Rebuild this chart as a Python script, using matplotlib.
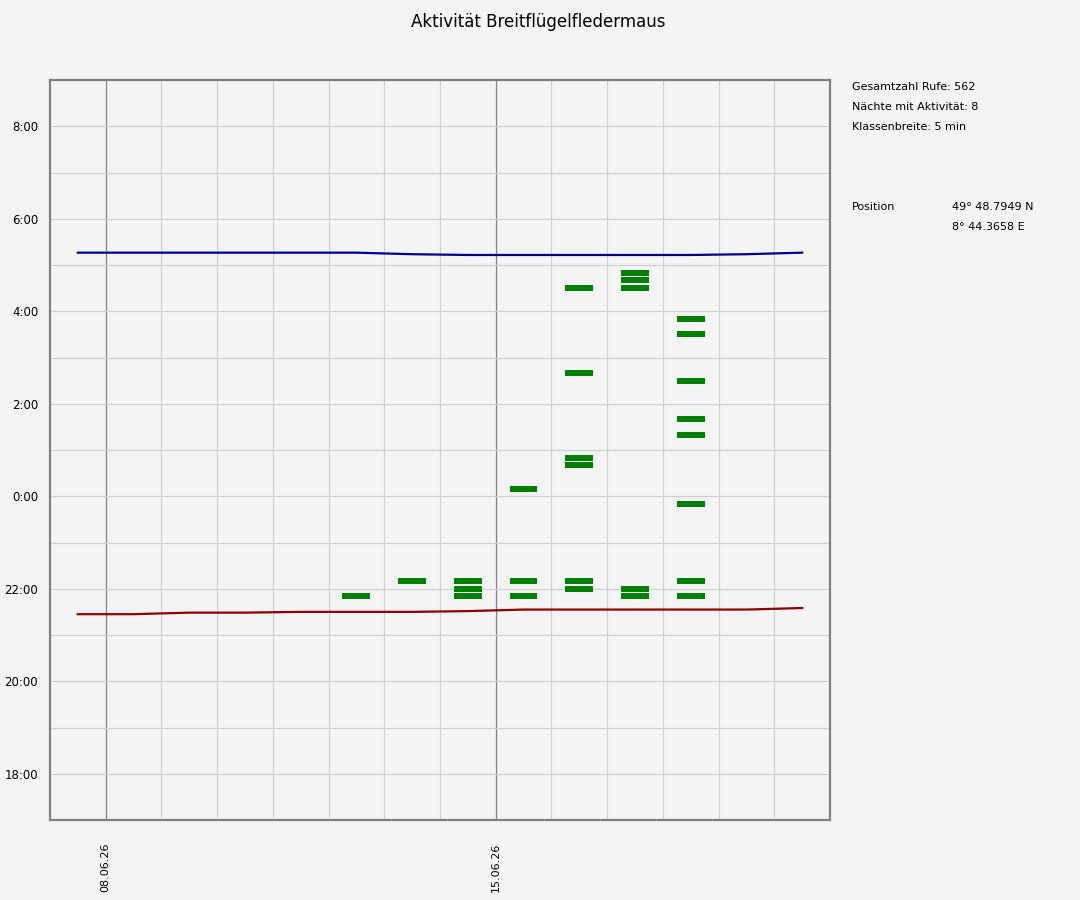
import matplotlib
matplotlib.use('Agg')
import matplotlib.pyplot as plt
import numpy as np

# evening date (day of June) and times with recorded calls (5 min classes)
bar_nights = [12, 13, 14, 14, 14, 15, 15, 15,
              16, 16, 16, 16, 16, 16,
              17, 17, 17, 17, 17,
              18, 18, 18, 18, 18, 18, 18, 18]
bar_times = ['21:50', '22:10', '21:50', '22:00', '22:10', '21:50', '22:10', '00:10',
             '22:00', '22:10', '00:40', '00:50', '02:40', '04:30',
             '21:50', '22:00', '04:30', '04:40', '04:50',
             '21:50', '22:10', '23:50', '01:20', '01:40', '02:30', '03:30', '03:50']

# sunset / sunrise per night (evening date 07.06 .. 20.06)
sun_days = [7, 8, 9, 10, 11, 12, 13, 14, 15, 16, 17, 18, 19, 20]
sunset = ['21:27', '21:27', '21:29', '21:29', '21:30', '21:30', '21:30',
          '21:31', '21:33', '21:33', '21:33', '21:33', '21:33', '21:35']
sunrise = ['05:16', '05:16', '05:16', '05:16', '05:16', '05:16', '05:14',
           '05:13', '05:13', '05:13', '05:13', '05:13', '05:14', '05:16']

ytick_vals = [-6, -4, -2, 0, 2, 4, 6, 8]
ytick_labels = ['18:00', '20:00', '22:00', '0:00', '2:00', '4:00', '6:00', '8:00']
xtick_days = [8, 15]
xtick_labels = ['08.06.26', '15.06.26']

info_lines = ['Gesamtzahl Rufe: 562', 'Nächte mit Aktivität: 8', 'Klassenbreite: 5 min']


def to_hours(s):
    # hours relative to midnight, evening times negative
    h, m = s.split(':')
    v = int(h) + int(m) / 60.0
    if v >= 12:
        v -= 24
    return v


bg = '#f4f4f4'
fig = plt.figure(figsize=(10.8, 9), dpi=100, facecolor=bg)
ax = fig.add_axes([50 / 1080, 80 / 900, 780 / 1080, 740 / 900])
ax.set_facecolor(bg)

# grid
for d in range(8, 21):
    c = '#808080' if d in xtick_days else '#d0d0d0'
    ax.axvline(d, color=c, lw=0.9, zorder=1)
for h in range(-6, 9):
    ax.axhline(h, color='#d0d0d0', lw=0.9, zorder=1)

# sun lines
xs = np.array(sun_days) + 0.5
ax.plot(xs, [to_hours(t) for t in sunrise], color='#00008b', lw=1.6, zorder=3)
ax.plot(xs, [to_hours(t) for t in sunset], color='#8b0000', lw=1.6, zorder=3)

# activity bars
bar_h = 0.13
for n, t in zip(bar_nights, bar_times):
    y = to_hours(t)
    ax.bar(n + 0.5, bar_h, width=0.5, bottom=y - bar_h / 2, color='#008000', zorder=4)

ax.set_xlim(7, 21)
ax.set_ylim(-7, 9)
ax.set_yticks(ytick_vals)
ax.set_yticklabels(ytick_labels, fontsize=8.5)
ax.set_xticks(xtick_days)
ax.set_xticklabels(xtick_labels, rotation=90, fontsize=8, va='top')
ax.tick_params(axis='y', length=0, pad=8.5)
ax.tick_params(axis='x', length=0, pad=16.5)
for s in ax.spines.values():
    s.set_color('#808080')
    s.set_linewidth(1.6)

fig.text(538 / 1080, 1 - 22 / 900, 'Aktivität Breitflügelfledermaus', ha='center', va='center', fontsize=12)

for i, line in enumerate(info_lines):
    fig.text(852 / 1080, 1 - (87 + 20 * i) / 900, line, fontsize=8, va='center')
fig.text(852 / 1080, 1 - 207 / 900, 'Position', fontsize=8, va='center')
fig.text(952 / 1080, 1 - 207 / 900, '49° 48.7949 N', fontsize=8, va='center')
fig.text(952 / 1080, 1 - 227 / 900, '8° 44.3658 E', fontsize=8, va='center')

fig.savefig('out.png', dpi=100, facecolor=bg)
